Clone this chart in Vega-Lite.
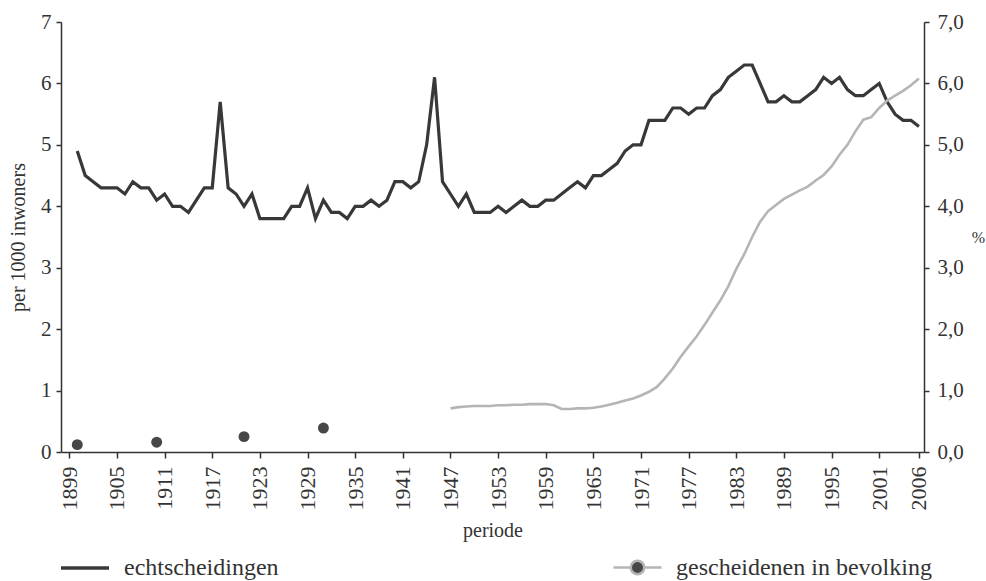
{
  "$schema": "https://vega.github.io/schema/vega-lite/v6.json",
  "width": 863,
  "height": 430,
  "autosize": "none",
  "padding": {"left": 61, "top": 22, "right": 62, "bottom": 129},
  "background": "white",
  "config": {
    "view": {"stroke": null},
    "font": "Liberation Serif",
    "axis": {
      "labelFont": "Liberation Serif",
      "titleFont": "Liberation Serif",
      "labelColor": "#333333",
      "titleColor": "#333333",
      "domainColor": "#333333",
      "tickColor": "#333333",
      "domainWidth": 1.5,
      "tickWidth": 1.5,
      "grid": false,
      "titleFontWeight": "normal"
    },
    "legend": {"labelFont": "Liberation Serif", "labelColor": "#333333", "padding": 0, "labelLimit": 500}
  },
  "datasets": {
    "echt": [
      {"jaar": 1900, "waarde": 4.9}, {"jaar": 1901, "waarde": 4.5}, {"jaar": 1902, "waarde": 4.4}, {"jaar": 1903, "waarde": 4.3},
      {"jaar": 1904, "waarde": 4.3}, {"jaar": 1905, "waarde": 4.3}, {"jaar": 1906, "waarde": 4.2}, {"jaar": 1907, "waarde": 4.4},
      {"jaar": 1908, "waarde": 4.3}, {"jaar": 1909, "waarde": 4.3}, {"jaar": 1910, "waarde": 4.1}, {"jaar": 1911, "waarde": 4.2},
      {"jaar": 1912, "waarde": 4.0}, {"jaar": 1913, "waarde": 4.0}, {"jaar": 1914, "waarde": 3.9}, {"jaar": 1915, "waarde": 4.1},
      {"jaar": 1916, "waarde": 4.3}, {"jaar": 1917, "waarde": 4.3}, {"jaar": 1918, "waarde": 5.7}, {"jaar": 1919, "waarde": 4.3},
      {"jaar": 1920, "waarde": 4.2}, {"jaar": 1921, "waarde": 4.0}, {"jaar": 1922, "waarde": 4.2}, {"jaar": 1923, "waarde": 3.8},
      {"jaar": 1924, "waarde": 3.8}, {"jaar": 1925, "waarde": 3.8}, {"jaar": 1926, "waarde": 3.8}, {"jaar": 1927, "waarde": 4.0},
      {"jaar": 1928, "waarde": 4.0}, {"jaar": 1929, "waarde": 4.3}, {"jaar": 1930, "waarde": 3.8}, {"jaar": 1931, "waarde": 4.1},
      {"jaar": 1932, "waarde": 3.9}, {"jaar": 1933, "waarde": 3.9}, {"jaar": 1934, "waarde": 3.8}, {"jaar": 1935, "waarde": 4.0},
      {"jaar": 1936, "waarde": 4.0}, {"jaar": 1937, "waarde": 4.1}, {"jaar": 1938, "waarde": 4.0}, {"jaar": 1939, "waarde": 4.1},
      {"jaar": 1940, "waarde": 4.4}, {"jaar": 1941, "waarde": 4.4}, {"jaar": 1942, "waarde": 4.3}, {"jaar": 1943, "waarde": 4.4},
      {"jaar": 1944, "waarde": 5.0}, {"jaar": 1945, "waarde": 6.1}, {"jaar": 1946, "waarde": 4.4}, {"jaar": 1947, "waarde": 4.2},
      {"jaar": 1948, "waarde": 4.0}, {"jaar": 1949, "waarde": 4.2}, {"jaar": 1950, "waarde": 3.9}, {"jaar": 1951, "waarde": 3.9},
      {"jaar": 1952, "waarde": 3.9}, {"jaar": 1953, "waarde": 4.0}, {"jaar": 1954, "waarde": 3.9}, {"jaar": 1955, "waarde": 4.0},
      {"jaar": 1956, "waarde": 4.1}, {"jaar": 1957, "waarde": 4.0}, {"jaar": 1958, "waarde": 4.0}, {"jaar": 1959, "waarde": 4.1},
      {"jaar": 1960, "waarde": 4.1}, {"jaar": 1961, "waarde": 4.2}, {"jaar": 1962, "waarde": 4.3}, {"jaar": 1963, "waarde": 4.4},
      {"jaar": 1964, "waarde": 4.3}, {"jaar": 1965, "waarde": 4.5}, {"jaar": 1966, "waarde": 4.5}, {"jaar": 1967, "waarde": 4.6},
      {"jaar": 1968, "waarde": 4.7}, {"jaar": 1969, "waarde": 4.9}, {"jaar": 1970, "waarde": 5.0}, {"jaar": 1971, "waarde": 5.0},
      {"jaar": 1972, "waarde": 5.4}, {"jaar": 1973, "waarde": 5.4}, {"jaar": 1974, "waarde": 5.4}, {"jaar": 1975, "waarde": 5.6},
      {"jaar": 1976, "waarde": 5.6}, {"jaar": 1977, "waarde": 5.5}, {"jaar": 1978, "waarde": 5.6}, {"jaar": 1979, "waarde": 5.6},
      {"jaar": 1980, "waarde": 5.8}, {"jaar": 1981, "waarde": 5.9}, {"jaar": 1982, "waarde": 6.1}, {"jaar": 1983, "waarde": 6.2},
      {"jaar": 1984, "waarde": 6.3}, {"jaar": 1985, "waarde": 6.3}, {"jaar": 1986, "waarde": 6.0}, {"jaar": 1987, "waarde": 5.7},
      {"jaar": 1988, "waarde": 5.7}, {"jaar": 1989, "waarde": 5.8}, {"jaar": 1990, "waarde": 5.7}, {"jaar": 1991, "waarde": 5.7},
      {"jaar": 1992, "waarde": 5.8}, {"jaar": 1993, "waarde": 5.9}, {"jaar": 1994, "waarde": 6.1}, {"jaar": 1995, "waarde": 6.0},
      {"jaar": 1996, "waarde": 6.1}, {"jaar": 1997, "waarde": 5.9}, {"jaar": 1998, "waarde": 5.8}, {"jaar": 1999, "waarde": 5.8},
      {"jaar": 2000, "waarde": 5.9}, {"jaar": 2001, "waarde": 6.0}, {"jaar": 2002, "waarde": 5.7}, {"jaar": 2003, "waarde": 5.5},
      {"jaar": 2004, "waarde": 5.4}, {"jaar": 2005, "waarde": 5.4}, {"jaar": 2006, "waarde": 5.3}
    ],
    "gesch": [
      {"jaar": 1947, "pct": 0.71}, {"jaar": 1948, "pct": 0.73}, {"jaar": 1949, "pct": 0.74}, {"jaar": 1950, "pct": 0.75},
      {"jaar": 1951, "pct": 0.75}, {"jaar": 1952, "pct": 0.75}, {"jaar": 1953, "pct": 0.76}, {"jaar": 1954, "pct": 0.76},
      {"jaar": 1955, "pct": 0.77}, {"jaar": 1956, "pct": 0.77}, {"jaar": 1957, "pct": 0.78}, {"jaar": 1958, "pct": 0.78},
      {"jaar": 1959, "pct": 0.78}, {"jaar": 1960, "pct": 0.76}, {"jaar": 1961, "pct": 0.70}, {"jaar": 1962, "pct": 0.70},
      {"jaar": 1963, "pct": 0.71}, {"jaar": 1964, "pct": 0.71}, {"jaar": 1965, "pct": 0.72}, {"jaar": 1966, "pct": 0.74},
      {"jaar": 1967, "pct": 0.77}, {"jaar": 1968, "pct": 0.80}, {"jaar": 1969, "pct": 0.84}, {"jaar": 1970, "pct": 0.87},
      {"jaar": 1971, "pct": 0.92}, {"jaar": 1972, "pct": 0.98}, {"jaar": 1973, "pct": 1.06}, {"jaar": 1974, "pct": 1.20},
      {"jaar": 1975, "pct": 1.36}, {"jaar": 1976, "pct": 1.55}, {"jaar": 1977, "pct": 1.72}, {"jaar": 1978, "pct": 1.88},
      {"jaar": 1979, "pct": 2.07}, {"jaar": 1980, "pct": 2.27}, {"jaar": 1981, "pct": 2.47}, {"jaar": 1982, "pct": 2.70},
      {"jaar": 1983, "pct": 2.98}, {"jaar": 1984, "pct": 3.22}, {"jaar": 1985, "pct": 3.50}, {"jaar": 1986, "pct": 3.75},
      {"jaar": 1987, "pct": 3.92}, {"jaar": 1988, "pct": 4.02}, {"jaar": 1989, "pct": 4.12}, {"jaar": 1990, "pct": 4.19},
      {"jaar": 1991, "pct": 4.26}, {"jaar": 1992, "pct": 4.32}, {"jaar": 1993, "pct": 4.42}, {"jaar": 1994, "pct": 4.51},
      {"jaar": 1995, "pct": 4.65}, {"jaar": 1996, "pct": 4.84}, {"jaar": 1997, "pct": 5.00}, {"jaar": 1998, "pct": 5.22},
      {"jaar": 1999, "pct": 5.41}, {"jaar": 2000, "pct": 5.45}, {"jaar": 2001, "pct": 5.60}, {"jaar": 2002, "pct": 5.72},
      {"jaar": 2003, "pct": 5.80}, {"jaar": 2004, "pct": 5.88}, {"jaar": 2005, "pct": 5.97}, {"jaar": 2006, "pct": 6.08}
    ],
    "census": [
      {"jaar": 1900, "pct": 0.12}, {"jaar": 1910, "pct": 0.16}, {"jaar": 1921, "pct": 0.25}, {"jaar": 1931, "pct": 0.39}
    ]
  },
  "layer": [
    {
      "data": {"name": "echt"},
      "mark": {"type": "line", "strokeWidth": 3.2},
      "encoding": {
        "x": {
          "field": "jaar", "type": "quantitative",
          "scale": {"domain": [1897.95, 2006.64], "nice": false, "zero": false},
          "axis": {
            "title": "periode",
            "values": [1899, 1905, 1911, 1917, 1923, 1929, 1935, 1941, 1947, 1953, 1959, 1965, 1971, 1977, 1983, 1989, 1995, 2001, 2006],
            "format": "d",
            "labelAngle": -90,
            "labelFontSize": 22,
            "labelPadding": 8,
            "tickSize": 6,
            "labelFlush": false,
            "labelOverlap": false,
            "titleFontSize": 20,
            "titlePadding": 10
          }
        },
        "y": {
          "field": "waarde", "type": "quantitative",
          "scale": {"domain": [0, 7], "nice": false},
          "axis": {
            "title": "per 1000 inwoners",
            "values": [0, 1, 2, 3, 4, 5, 6, 7],
            "labelFontSize": 21,
            "labelPadding": 5,
            "tickSize": 5,
            "titleFontSize": 20,
            "titlePadding": 12
          }
        },
        "color": {
          "datum": "echtscheidingen",
          "scale": {"domain": ["echtscheidingen"], "range": ["#383838"]},
          "legend": {
            "orient": "none", "legendX": -2, "legendY": 520, "title": null,
            "symbolType": "stroke", "symbolSize": 2304, "symbolStrokeWidth": 3.5,
            "labelFontSize": 24, "labelOffset": 13
          }
        }
      }
    },
    {
      "data": {"name": "gesch"},
      "mark": {"type": "line", "strokeWidth": 2.6},
      "encoding": {
        "x": {"field": "jaar", "type": "quantitative"},
        "y": {
          "field": "pct", "type": "quantitative",
          "scale": {"domain": [0, 7], "nice": false},
          "axis": {
            "orient": "right",
            "title": "%",
            "titleAngle": 0,
            "titleAlign": "left",
            "titleBaseline": "middle",
            "titleFontSize": 16,
            "titlePadding": 8,
            "values": [0, 1, 2, 3, 4, 5, 6, 7],
            "labelExpr": "replace(format(datum.value, '.1f'), '.', ',')",
            "labelFontSize": 21,
            "labelPadding": 8,
            "tickSize": 5
          }
        },
        "color": {
          "datum": "gescheidenen in bevolking",
          "scale": {"domain": ["gescheidenen in bevolking"], "range": ["#b5b5b5"]},
          "legend": {
            "orient": "none", "legendX": 551, "legendY": 520, "title": null,
            "symbolType": "M-1,0H-0.3M0.3,0H1M0.28,0A0.28,0.28,0,1,1,-0.28,0A0.28,0.28,0,1,1,0.28,0Z",
            "symbolSize": 2304, "symbolStrokeWidth": 2.5,
            "symbolFillColor": "#474747", "symbolStrokeColor": "#b5b5b5",
            "labelFontSize": 24, "labelOffset": 13
          }
        }
      }
    },
    {
      "data": {"name": "census"},
      "mark": {"type": "point", "filled": true, "color": "#474747", "size": 120, "opacity": 1},
      "encoding": {
        "x": {"field": "jaar", "type": "quantitative"},
        "y": {"field": "pct", "type": "quantitative", "scale": {"domain": [0, 7], "nice": false}, "axis": null}
      }
    }
  ],
  "resolve": {"scale": {"y": "independent", "color": "independent"}}
}
